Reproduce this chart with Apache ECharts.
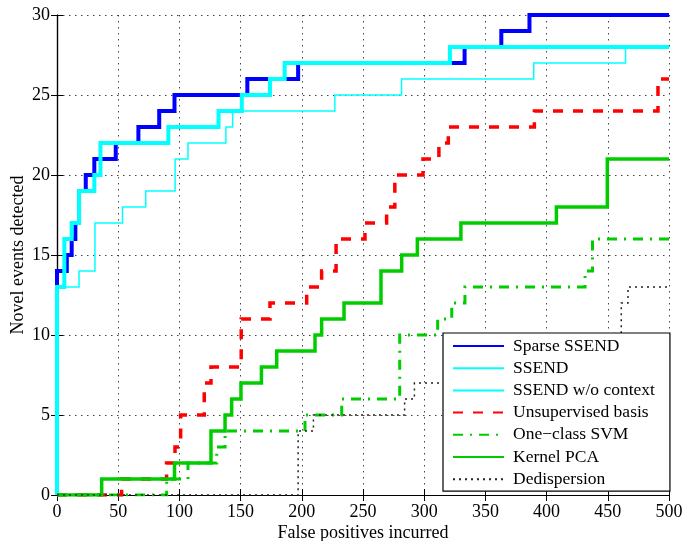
<!DOCTYPE html>
<html>
<head>
<meta charset="utf-8">
<script src="https://cdn.jsdelivr.net/npm/echarts@6/dist/echarts.min.js"></script>
<style>
html,body{margin:0;padding:0;background:#fff;}
#c{width:683px;height:541px;}
</style>
</head>
<body>
<div id="c"></div>
<script>
// Data (step functions: value y holds from x until the next x)
const seriesNames = ['Sparse SSEND','SSEND','SSEND w/o context','Unsupervised basis','One\u2212class SVM','Kernel PCA','Dedispersion'];

const sparseX = [0, 0, 8, 12, 15, 18, 23.5, 30.5, 48, 66.5, 83.5, 96, 155.5, 197, 333, 363, 386, 500];
const sparseY = [0, 14, 15, 16, 17, 19, 20, 21, 22, 23, 24, 25, 26, 27, 28, 29, 30, 30];

const ssendX = [0, 0, 6, 12, 18, 30.5, 35.5, 91, 132, 151, 174, 186, 321, 500];
const ssendY = [0, 13, 16, 17, 19, 20, 22, 23, 24, 25, 26, 27, 28, 28];

const woCtxX = [0, 0, 18, 31, 53.5, 72.5, 96.5, 107, 138, 143.5, 227, 281.5, 389.5, 464.5, 500];
const woCtxY = [0, 13, 14, 17, 18, 19, 21, 22, 23, 24, 25, 26, 27, 28, 28];

const unsupX = [0, 52.8, 89.5, 96.4, 101, 120.3, 125.8, 150.5, 174, 204, 216.2, 228, 251.6, 269.3, 276, 299, 312, 319.7, 390, 491, 500];
const unsupY = [0, 1, 2, 3, 5, 7, 8, 11, 12, 13, 14, 16, 17, 18, 20, 21, 22, 23, 24, 26, 26];

const svmX = [0, 89.6, 107, 130.5, 137.3, 202.6, 232.6, 280, 311, 322.5, 333.3, 431.4, 437.5, 500];
const svmY = [0, 1, 2, 3, 4, 5, 6, 10, 11, 12, 13, 14, 16, 16];

const pcaX = [0, 36.5, 96, 125.8, 137.3, 142.7, 150.3, 167, 179.5, 210.8, 216.2, 234.5, 264.7, 281.6, 294.4, 330, 408, 449.6, 500];
const pcaY = [0, 1, 2, 4, 5, 6, 7, 8, 9, 10, 11, 12, 14, 15, 16, 17, 18, 21, 21];

const dedX = [0, 197, 209.5, 284, 292, 461, 466.5, 500];
const dedY = [0, 4, 5, 6, 7, 12, 13, 13];

const xTicks = [0, 50, 100, 150, 200, 250, 300, 350, 400, 450, 500];
const yTicks = [0, 5, 10, 15, 20, 25, 30];

function pts(xs, ys){ return xs.map((x,i)=>[x, ys[i]]); }

const serif = 'Liberation Serif, Times New Roman, serif';
const chart = echarts.init(document.getElementById('c'), null, {renderer:'canvas'});

const gridLine = {show:true, lineStyle:{color:'#444', width:1, type:[1.5,4.5]}};
const axLine = {show:true, lineStyle:{color:'#000', width:1.2}};
const tick = {show:true, inside:true, length:6, lineStyle:{color:'#000', width:1}};

function mk(name, xs, ys, color, width, type){
  return {
    name:name, type:'line', step:'end', data:pts(xs,ys),
    symbol:'none', showSymbol:false, animation:false,
    lineStyle:{color:color, width:width, type:type, cap:'butt', join:'miter'},
    itemStyle:{color:color}
  };
}

chart.setOption({
  animation:false,
  backgroundColor:'#fff',
  grid:{left:57, right:14, top:15, bottom:46, containLabel:false, outerBoundsMode:'none'},
  xAxis:[{
    type:'value', min:xTicks[0], max:xTicks[xTicks.length-1], interval:50,
    position:'bottom',
    name:'False positives incurred', nameLocation:'middle', nameGap:29, nameMoveOverlap:false,
    nameTextStyle:{fontFamily:serif, fontSize:18, color:'#000'},
    axisLine:axLine, axisTick:tick, splitLine:gridLine,
    axisLabel:{fontFamily:serif, fontSize:18, color:'#000', margin:8}
  },{
    type:'value', min:0, max:500, interval:50, position:'top',
    axisLine:axLine, axisTick:tick, splitLine:{show:false}, axisLabel:{show:false}
  }],
  yAxis:[{
    type:'value', min:yTicks[0], max:yTicks[yTicks.length-1], interval:5,
    position:'left',
    name:'Novel events detected', nameLocation:'middle', nameGap:30, nameMoveOverlap:false,
    nameTextStyle:{fontFamily:serif, fontSize:18, color:'#000'},
    axisLine:axLine, axisTick:tick, splitLine:gridLine,
    axisLabel:{fontFamily:serif, fontSize:18, color:'#000', margin:7}
  },{
    type:'value', min:0, max:30, interval:5, position:'right',
    axisLine:axLine, axisTick:tick, splitLine:{show:false}, axisLabel:{show:false}
  }],
  legend:{
    orient:'vertical', left:443, top:333,
    padding:[4,15,3,9], itemGap:4.2, itemWidth:51, itemHeight:14,
    backgroundColor:'#fff', borderColor:'#000', borderWidth:1.2, borderRadius:0,
    itemStyle:{opacity:0},
    textStyle:{fontFamily:serif, fontSize:17.5, color:'#000', lineHeight:18, padding:[0,0,0,4]},
    data:seriesNames
  },
  series:[
    mk(seriesNames[0], sparseX, sparseY, '#0000ff', 4, 'solid'),
    mk(seriesNames[1], ssendX, ssendY, '#00ffff', 4, 'solid'),
    mk(seriesNames[2], woCtxX, woCtxY, '#00ffff', 1.5, 'solid'),
    mk(seriesNames[3], unsupX, unsupY, '#ff0000', 3.5, [10,10]),
    mk(seriesNames[4], svmX, svmY, '#00cc00', 3, [10,7,2,7]),
    mk(seriesNames[5], pcaX, pcaY, '#00cc00', 3.5, 'solid'),
    mk(seriesNames[6], dedX, dedY, '#222222', 1.5, [2,4])
  ]
});
</script>
</body>
</html>
